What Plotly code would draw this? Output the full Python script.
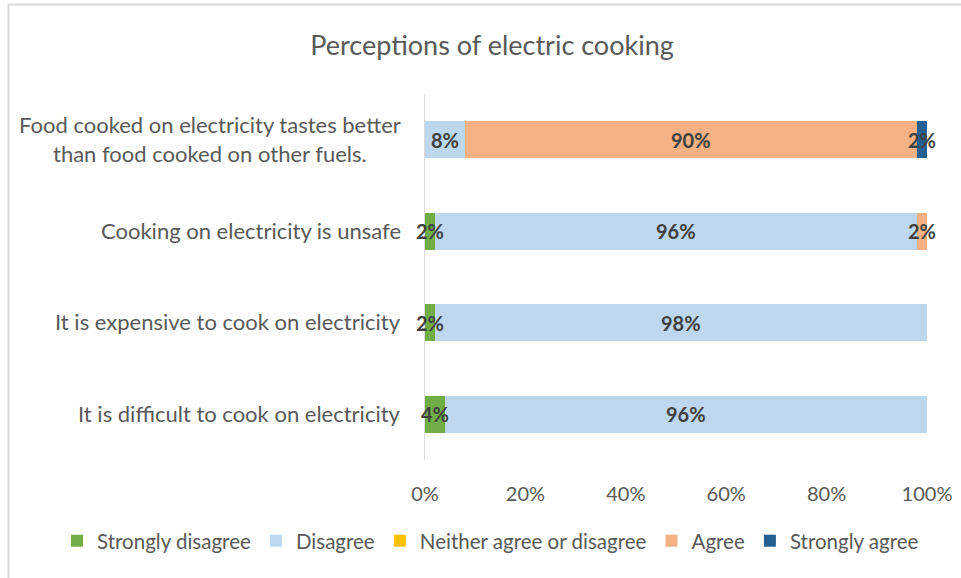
import plotly.graph_objects as go

# Survey statements, listed top to bottom
statements = [
    "Food cooked on electricity tastes better<br>than food cooked on other fuels.",
    "Cooking on electricity is unsafe",
    "It is expensive to cook on electricity",
    "It is difficult to cook on electricity",
]

# Share of respondents (%) per response level
strongly_disagree = [0, 2, 2, 4]
disagree = [8, 96, 98, 96]
neither = [0, 0, 0, 0]
agree = [90, 2, 0, 0]
strongly_agree = [2, 0, 0, 0]

series_names = ["Strongly disagree", "Disagree", "Neither agree or disagree", "Agree", "Strongly agree"]
series_values = [strongly_disagree, disagree, neither, agree, strongly_agree]
series_colors = ["#70AD47", "#BDD7EE", "#FFC000", "#F4B183", "#255E91"]

FONT = "Lato"
GREY = "#595959"

fig = go.Figure()
for name, vals, col in zip(series_names, series_values, series_colors):
    fig.add_trace(go.Bar(
        y=statements, x=vals, name=name, orientation="h",
        marker=dict(color=col, line=dict(width=0)),
        hoverinfo="x+name",
    ))

annotations = []

# Category labels: block right-aligned to the axis, lines centred within it
for stmt in statements:
    annotations.append(dict(
        x=0, y=stmt, xref="paper", yref="y", xanchor="right", yanchor="middle",
        xshift=-22, yshift=1, align="center", text=stmt, showarrow=False,
        font=dict(family=FONT, size=22, color=GREY),
    ))

# Value labels centred on each non-zero segment
for i, stmt in enumerate(statements):
    left = 0
    for vals in series_values:
        v = vals[i]
        if v > 0:
            annotations.append(dict(
                x=left + v / 2, y=stmt, xref="x", yref="y",
                text=f"<b>{v}%</b>", showarrow=False,
                font=dict(family=FONT, size=20, color="#404040"),
            ))
        left += v

fig.update_layout(
    barmode="stack",
    bargap=0.6,
    width=961, height=578,
    margin=dict(l=425, r=34, t=94, b=118, autoexpand=False),
    paper_bgcolor="white", plot_bgcolor="white",
    title=dict(text="Perceptions of electric cooking", x=0.512, xanchor="center",
               y=0.922, yanchor="middle",
               font=dict(family=FONT, size=27, color=GREY)),
    font=dict(family=FONT, color=GREY),
    xaxis=dict(range=[0, 100], dtick=20, ticksuffix="%", showgrid=False,
               zeroline=False, showline=False, fixedrange=True,
               tickfont=dict(family=FONT, size=20, color=GREY), ticklabelstandoff=20),
    yaxis=dict(autorange="reversed", showline=True, linecolor="#D9D9D9", linewidth=1,
               showgrid=False, ticks="", showticklabels=False, fixedrange=True),
    legend=dict(orientation="h", x=-0.733, xanchor="left", y=-0.221, yanchor="middle",
                font=dict(family=FONT, size=20.5, color=GREY), traceorder="normal",
                itemwidth=30, bgcolor="rgba(0,0,0,0)"),
    annotations=annotations,
    shapes=[dict(type="rect", xref="paper", yref="paper",
                 x0=-0.8297, x1=1.1, y0=-0.4, y1=1.2445,
                 line=dict(color="#D9D9D9", width=2), layer="below")],
)

fig.write_html("out.html")
